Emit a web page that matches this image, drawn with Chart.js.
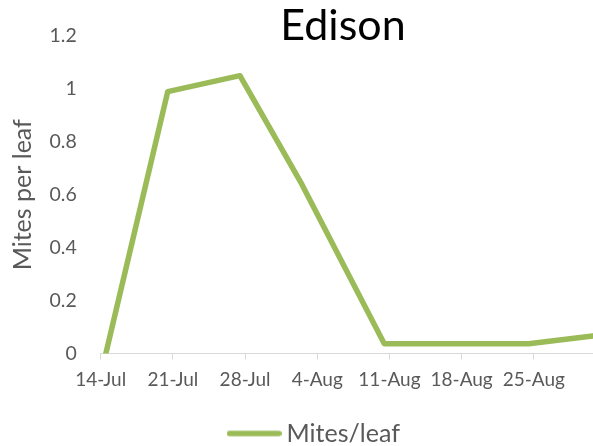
<!DOCTYPE html>
<html>
<head>
<meta charset="utf-8">
<script src="https://cdn.jsdelivr.net/npm/chart.js@4/dist/chart.umd.min.js"></script>
<style>
  html, body { margin: 0; padding: 0; background: #ffffff; overflow: hidden; }
  #wrap { width: 631px; height: 446px; }
</style>
</head>
<body>
<div id="wrap"><canvas id="chart" width="631" height="446"></canvas></div>
<script>
const chartTitle = 'Edison';
const seriesName = 'Mites/leaf';
const yAxisTitle = 'Mites per leaf';

// Sampling dates and mean mites per leaf
const sampleDates = ['14-Jul', '20-Jul', '27-Jul', '2-Aug', '10-Aug', '24-Aug', '31-Aug'];
const mitesPerLeaf = [0, 0.99, 1.05, 0.64, 0.037, 0.037, 0.07];

// Weekly date ticks on the x axis and value ticks on the y axis
const xTickLabels = ['14-Jul', '21-Jul', '28-Jul', '4-Aug', '11-Aug', '18-Aug', '25-Aug'];
const yTickValues = [0, 0.2, 0.4, 0.6, 0.8, 1, 1.2];

const MONTHS = { Jul: 6, Aug: 7, Sep: 8 };
function dayNumber(label) {
  const [d, m] = label.split('-');
  return Math.round(Date.UTC(2000, MONTHS[m], +d) / 86400000);
}
const firstDay = dayNumber(sampleDates[0]);
const dayIndex = label => dayNumber(label) - firstDay;

// a date axis: each day is one slot, samples sit in the middle of their day
const points = sampleDates.map((d, i) => ({ x: dayIndex(d) + 0.5, y: mitesPerLeaf[i] }));
const xTickPositions = xTickLabels.map(dayIndex);
const xMax = dayIndex(sampleDates[sampleDates.length - 1]) + 1;

const FONT = 'Lato, "Open Sans", sans-serif';
const GREY = '#595959';
const LINE_COLOR = '#9BBB59';
const LINE_WIDTH = 5.5;

// legend swatch: a short thick line with round ends
const swatch = document.createElement('canvas');
swatch.width = 55;
swatch.height = 8;
{
  const g = swatch.getContext('2d');
  g.strokeStyle = LINE_COLOR;
  g.lineWidth = LINE_WIDTH;
  g.lineCap = 'round';
  g.beginPath();
  g.moveTo(LINE_WIDTH / 2, 4);
  g.lineTo(55 - LINE_WIDTH / 2, 4);
  g.stroke();
}

// moves the title and the legend sideways after layout
const boxOffsets = {
  id: 'boxOffsets',
  afterLayout(chart) {
    const t = chart.titleBlock;
    if (t) { t.left += 40; t.right += 40; }
    const l = chart.legend;
    if (l) { l.left += 14; l.right += 14; }
  }
};

new Chart(document.getElementById('chart'), {
  type: 'line',
  data: {
    datasets: [{
      label: seriesName,
      data: points,
      borderColor: LINE_COLOR,
      backgroundColor: LINE_COLOR,
      borderWidth: LINE_WIDTH,
      borderCapStyle: 'round',
      borderJoinStyle: 'round',
      pointRadius: 0,
      pointHoverRadius: 0,
      tension: 0,
      fill: false
    }]
  },
  options: {
    responsive: false,
    animation: false,
    devicePixelRatio: 1,
    layout: { padding: { left: 0, right: 25, top: 0, bottom: -10 } },
    scales: {
      x: {
        type: 'linear',
        min: 0,
        max: xMax,
        afterBuildTicks: s => { s.ticks = xTickPositions.map(v => ({ value: v })); },
        afterFit: s => { s.height = 66; },
        ticks: {
          callback: (v, i) => xTickLabels[i],
          color: GREY,
          font: { family: FONT, size: 19 },
          padding: 9,
          maxRotation: 0,
          autoSkip: false
        },
        grid: { drawOnChartArea: false, drawTicks: true, tickLength: 6, color: '#D9D9D9', lineWidth: 1 },
        border: { display: true, color: '#D9D9D9', width: 1 }
      },
      y: {
        min: 0,
        max: 1.2,
        afterBuildTicks: s => { s.ticks = yTickValues.map(v => ({ value: v })); },
        afterFit: s => { s.width = 100.7; },
        ticks: {
          callback: v => String(v),
          color: GREY,
          font: { family: FONT, size: 19.5 },
          padding: 24
        },
        grid: { display: false, drawTicks: false },
        border: { display: false },
        title: {
          display: true,
          text: yAxisTitle,
          color: GREY,
          font: { family: FONT, size: 25 },
          padding: { top: 7.5, bottom: 0 }
        }
      }
    },
    plugins: {
      title: {
        display: true,
        text: chartTitle,
        color: '#000000',
        font: { family: FONT, size: 43, weight: 'normal' },
        padding: { top: 0.5, bottom: -16.1 }
      },
      legend: {
        position: 'bottom',
        labels: {
          usePointStyle: true,
          pointStyle: swatch,
          pointStyleWidth: 40,
          color: GREY,
          font: { family: FONT, size: 25 },
          padding: 1.5
        }
      },
      tooltip: { enabled: false }
    }
  },
  plugins: [boxOffsets]
});
</script>
</body>
</html>
